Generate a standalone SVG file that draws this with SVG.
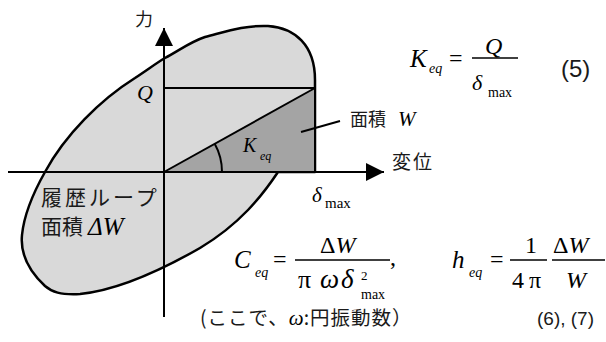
<svg xmlns="http://www.w3.org/2000/svg" width="606" height="342" viewBox="0 0 606 342">
<style>
.ln{stroke:#000;fill:none;stroke-width:2}
.m{font-family:"Liberation Serif","DejaVu Serif",serif;fill:#000}
.i{font-style:italic}
.j{font-family:"Noto Sans CJK JP","Noto Sans CJK SC",sans-serif;fill:#1a1a1a}
.s{font-family:"Liberation Sans","DejaVu Sans",sans-serif;fill:#1a1a1a}
</style>
<defs>
<marker id="ah" viewBox="0 0 18 18" refX="18" refY="9" markerWidth="18" markerHeight="18" markerUnits="userSpaceOnUse" orient="auto">
<path d="M0,0 L18,9 L0,18 Z" fill="#000"/>
</marker>
</defs>
<rect width="606" height="342" fill="#fff"/>
<g id="loop">
<path d="M 278,172 C 262,196 240,224 200,248 C 165,268 120,290 80,294 C 60,295 52,292 45,286 C 30,272 20,255 22,235 C 24,215 32,195 45,172 C 65,135 100,100 135,78 C 150,68 158,62 165,58 C 180,50 190,42 205,37 C 225,32 245,25 268,26 C 295,28 315,45 315,80 L 315,172 Z" fill="#d9d9d9" stroke="#000" stroke-width="2.5" stroke-linejoin="round"/>
</g>
<g id="stiffness">
<polygon points="164,172 315,88 315,172" fill="#a4a4a4"/>
<line class="ln" x1="164" y1="88" x2="315" y2="88"/>
<line class="ln" x1="164" y1="172" x2="315" y2="88"/>
<line class="ln" x1="315" y1="88" x2="315" y2="172"/>
<path class="ln" d="M 222,172 A 58,58 0 0 0 214.7,143.8" stroke-width="1.8"/>
</g>
<g id="connectors">
<line class="ln" x1="164" y1="317" x2="164" y2="28" marker-end="url(#ah)"/>
<line class="ln" x1="8" y1="172" x2="384" y2="172" marker-end="url(#ah)"/>
<line class="ln" x1="301" y1="132" x2="340" y2="121" stroke-width="1.5"/>
</g>
<g id="label-force"><text class="j" x="135" y="26" font-size="18">力</text></g>
<g id="label-Q"><text class="m i" x="137" y="100" font-size="22">Q</text></g>
<g id="label-W">
<text class="j" x="350" y="126" font-size="18">面積</text>
<text class="m i" x="398" y="126" font-size="21">W</text>
</g>
<g id="label-Keq">
<text class="m i" x="243" y="152" font-size="20">K</text>
<text class="m i" x="260" y="160" font-size="12">eq</text>
</g>
<g id="label-disp"><text class="j" x="392" y="169" font-size="19" letter-spacing="2">変位</text></g>
<g id="label-dmax">
<text class="m i" x="312" y="202" font-size="21">δ</text>
<text class="m" x="325" y="208" font-size="15">max</text>
</g>
<g id="label-loop">
<text class="j" x="41" y="205" font-size="21" letter-spacing="3">履歴ループ</text>
<text class="j" x="41" y="234" font-size="21">面積</text>
<text class="m i" x="88" y="235" font-size="25">ΔW</text>
</g>
<g id="eq5">
<text class="m i" x="410" y="67" font-size="25">K</text>
<text class="m i" x="429" y="73" font-size="14">eq</text>
<text class="m" x="449" y="66" font-size="24">=</text>
<line x1="472" y1="58" x2="518" y2="58" stroke="#000" stroke-width="1.5"/>
<text class="m i" x="485" y="54" font-size="24">Q</text>
<text class="m i" x="472" y="90" font-size="22">δ</text>
<text class="m" x="488" y="97" font-size="14">max</text>
<text class="s" x="561" y="77" font-size="24">(5)</text>
</g>
<g id="eq6">
<text class="m i" x="234" y="268" font-size="25">C</text>
<text class="m i" x="255" y="277" font-size="14">eq</text>
<text class="m" x="273" y="267" font-size="24">=</text>
<line x1="295" y1="260" x2="390" y2="260" stroke="#000" stroke-width="1.5"/>
<text class="m" x="320" y="253" font-size="24">Δ<tspan class="i">W</tspan></text>
<text class="m" x="298" y="288" font-size="26">π</text>
<text class="m i" x="320" y="288" font-size="27">ω</text>
<text class="m i" x="341" y="288" font-size="27">δ</text>
<text class="m" x="361" y="280" font-size="13">2</text>
<text class="m" x="361" y="299" font-size="14">max</text>
<text class="m" x="390" y="265" font-size="24">,</text>
</g>
<g id="eq7">
<text class="m i" x="452" y="268" font-size="25">h</text>
<text class="m i" x="469" y="277" font-size="14">eq</text>
<text class="m" x="490" y="267" font-size="24">=</text>
<line x1="510" y1="260" x2="547" y2="260" stroke="#000" stroke-width="1.5"/>
<text class="m" x="525" y="253" font-size="24">1</text>
<text class="m" x="512" y="288" font-size="24">4</text>
<text class="m" x="529" y="288" font-size="24">π</text>
<line x1="552" y1="260" x2="605" y2="260" stroke="#000" stroke-width="1.5"/>
<text class="m" x="553" y="253" font-size="24">Δ<tspan class="i">W</tspan></text>
<text class="m i" x="566" y="288" font-size="24">W</text>
</g>
<g id="note">
<text class="j" x="200" y="325" font-size="19.5" letter-spacing="1">(ここで、<tspan class="m i" font-size="21" letter-spacing="0">ω</tspan>:円振動数）</text>
<text class="s" x="537" y="325" font-size="19">(6), (7)</text>
</g>
</svg>
